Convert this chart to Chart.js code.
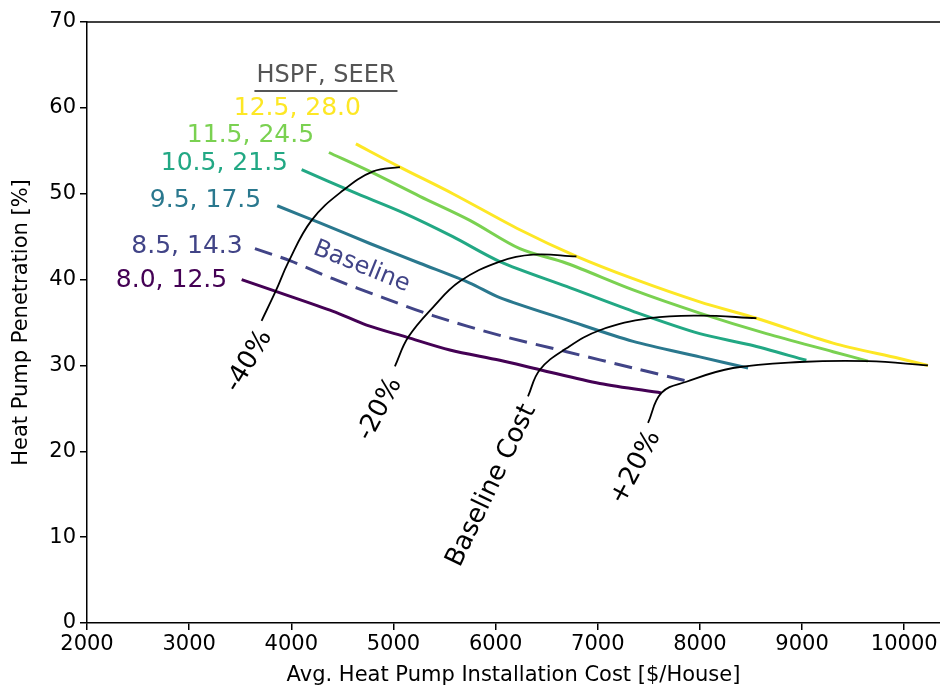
<!DOCTYPE html>
<html>
<head>
<meta charset="utf-8">
<script src="https://cdn.jsdelivr.net/npm/chart.js@4.4.1/dist/chart.umd.min.js"></script>
<style>
  html, body { margin: 0; padding: 0; background: #ffffff; }
</style>
</head>
<body>
<canvas id="chart" width="940" height="688"></canvas>
<script>
const xTicks = [2000, 3000, 4000, 5000, 6000, 7000, 8000, 9000, 10000];
const yTicks = [0, 10, 20, 30, 40, 50, 60, 70];

// HSPF / SEER curves: installation cost [$/house] and penetration [%]
const curveNames = ['8.0, 12.5', '8.5, 14.3', '9.5, 17.5', '10.5, 21.5', '11.5, 24.5', '12.5, 28.0'];
const curveColors = ['#440154', '#414487', '#2a788e', '#22a884', '#7ad151', '#fde725'];

const cost80 = [3514, 3856, 4410, 4737, 5128, 5552, 6041, 6433, 7020, 7623];
const pen80 = [40.0, 38.6, 36.3, 34.7, 33.3, 31.8, 30.6, 29.5, 27.9, 26.8];

const cost85 = [3644, 3986, 4407, 4896, 5386, 6041, 6694, 7346, 7868];
const pen85 = [43.6, 42.2, 40.1, 37.9, 35.8, 33.5, 31.6, 29.7, 28.2];

const cost95 = [3862, 4280, 4769, 5258, 5748, 6041, 6694, 7346, 7998, 8471];
const pen95 = [48.6, 46.6, 44.2, 41.9, 39.6, 37.9, 35.3, 32.8, 31.0, 29.7];

const cost105 = [4101, 4603, 5092, 5581, 6041, 6694, 7346, 7998, 8487, 9042];
const pen105 = [52.8, 50.2, 47.8, 45.0, 42.1, 39.2, 36.3, 33.7, 32.4, 30.6];

const cost115 = [4368, 4769, 5258, 5748, 6237, 6694, 7346, 7998, 8651, 9303, 9645];
const pen115 = [54.8, 52.6, 49.7, 46.9, 43.6, 41.9, 38.8, 36.1, 33.7, 31.6, 30.5];

const cost125 = [4632, 5063, 5581, 6237, 6792, 7346, 7998, 8553, 9303, 9955, 10232];
const pen125 = [55.8, 53.1, 50.0, 45.8, 42.7, 40.1, 37.4, 35.5, 32.6, 30.8, 30.0];

// iso-cost arcs
const arcNames = ['-40%', '-20%', 'Baseline Cost', '+20%'];
const costM40 = [3709, 3849, 3970, 4198, 4508, 4801, 5063];
const penM40 = [35.2, 38.7, 42.0, 46.9, 50.4, 52.6, 53.1];
const costM20 = [5014, 5145, 5389, 5650, 6041, 6367, 6791];
const penM20 = [29.9, 33.3, 36.8, 39.8, 42.1, 42.9, 42.7];
const costBase = [6317, 6433, 6694, 7020, 7509, 7998, 8553];
const penBase = [26.4, 29.5, 32.0, 34.1, 35.5, 35.8, 35.5];
const costP20 = [7492, 7623, 7867, 8324, 8977, 9645, 10232];
const penP20 = [23.3, 26.8, 28.1, 29.7, 30.4, 30.5, 30.0];

// text annotations (data coordinates)
const curveLabelX = [2827, 2979, 3160, 3345, 3600, 4059];
const curveLabelY = [39.9, 43.9, 49.2, 53.5, 56.8, 59.9];
const arcLabelX = [3585, 4867, 5960, 7372];
const arcLabelY = [30.5, 24.9, 16.0, 18.1];
const arcLabelAngle = [-59, -62, -64.5, -62];

const FONT = '"DejaVu Sans", Verdana, sans-serif';

function pts(xs, ys) {
    return xs.map((x, i) => ({ x: x, y: ys[i] }));
}

const curveCosts = [cost80, cost85, cost95, cost105, cost115, cost125];
const curvePens = [pen80, pen85, pen95, pen105, pen115, pen125];
const arcCosts = [costM40, costM20, costBase, costP20];
const arcPens = [penM40, penM20, penBase, penP20];

const datasets = [];
arcCosts.forEach((c, i) => {
    datasets.push({
        label: arcNames[i],
        data: pts(c, arcPens[i]),
        borderColor: '#000000',
        borderWidth: 1.8,
        pointRadius: 0,
        tension: 0.4,
        order: 0
    });
});
curveCosts.forEach((c, i) => {
    datasets.push({
        label: curveNames[i],
        data: pts(c, curvePens[i]),
        borderColor: curveColors[i],
        borderWidth: 3,
        borderDash: i === 1 ? [18, 9] : [],
        pointRadius: 0,
        tension: 0.3,
        order: 1
    });
});

const annotations = {
    id: 'annotations',
    afterDatasetsDraw(chart) {
        const ctx = chart.ctx;
        const xs = chart.scales.x;
        const ys = chart.scales.y;
        const area = chart.chartArea;
        ctx.save();
        // top spine
        ctx.strokeStyle = '#000000';
        ctx.lineWidth = 1.5;
        ctx.beginPath();
        ctx.moveTo(area.left, area.top);
        ctx.lineTo(chart.width, area.top);
        ctx.stroke();

        ctx.textAlign = 'center';
        ctx.textBaseline = 'middle';

        // legend header
        ctx.font = '24px ' + FONT;
        ctx.fillStyle = '#555555';
        const hx = xs.getPixelForValue(4339);
        const hy = ys.getPixelForValue(63.7);
        ctx.fillText('HSPF, SEER', hx, hy);
        const hw = ctx.measureText('HSPF, SEER').width;
        ctx.strokeStyle = '#555555';
        ctx.lineWidth = 2;
        ctx.beginPath();
        ctx.moveTo(hx - hw / 2 - 2, hy + 15);
        ctx.lineTo(hx + hw / 2 + 2, hy + 15);
        ctx.stroke();

        // curve labels
        ctx.font = '25px ' + FONT;
        curveNames.forEach((name, i) => {
            ctx.fillStyle = curveColors[i];
            ctx.fillText(name, xs.getPixelForValue(curveLabelX[i]), ys.getPixelForValue(curveLabelY[i]));
        });

        // "Baseline" along the dashed curve
        ctx.save();
        ctx.font = '24px ' + FONT;
        ctx.fillStyle = curveColors[1];
        ctx.translate(xs.getPixelForValue(4687), ys.getPixelForValue(41.5));
        ctx.rotate(22 * Math.PI / 180);
        ctx.fillText('Baseline', 0, 0);
        ctx.restore();

        // arc labels
        ctx.font = '26px ' + FONT;
        ctx.fillStyle = '#000000';
        arcNames.forEach((name, i) => {
            ctx.save();
            ctx.translate(xs.getPixelForValue(arcLabelX[i]), ys.getPixelForValue(arcLabelY[i]));
            ctx.rotate(arcLabelAngle[i] * Math.PI / 180);
            ctx.fillText(name, 0, 0);
            ctx.restore();
        });
        ctx.restore();
    }
};

new Chart(document.getElementById('chart').getContext('2d'), {
    type: 'line',
    data: { datasets: datasets },
    options: {
        responsive: false,
        animation: false,
        layout: { padding: { top: 22, right: -4, bottom: 0, left: 0 } },
        plugins: {
            legend: { display: false },
            tooltip: { enabled: false }
        },
        scales: {
            x: {
                type: 'linear',
                min: 2000,
                max: 10350,
                afterBuildTicks: (scale) => { scale.ticks = xTicks.map(v => ({ value: v })); },
                afterFit: (scale) => { scale.height = 65; },
                border: { display: true, color: '#000000', width: 1.5 },
                grid: { display: true, drawOnChartArea: false, drawTicks: true, tickLength: 7, color: '#000000', lineWidth: 1.5 },
                ticks: { color: '#000000', font: { family: FONT, size: 21 }, padding: 2, maxRotation: 0, callback: (v) => String(v) },
                title: {
                    display: true,
                    text: 'Avg. Heat Pump Installation Cost [$/House]',
                    color: '#000000',
                    font: { family: FONT, size: 21 },
                    padding: { top: 1, bottom: 0 }
                }
            },
            y: {
                type: 'linear',
                min: 0,
                max: 70,
                afterBuildTicks: (scale) => { scale.ticks = yTicks.map(v => ({ value: v })); },
                afterFit: (scale) => { scale.width = 87; },
                border: { display: true, color: '#000000', width: 1.5 },
                grid: { display: true, drawOnChartArea: false, drawTicks: true, tickLength: 7, color: '#000000', lineWidth: 1.5 },
                ticks: { color: '#000000', font: { family: FONT, size: 21 }, padding: 4, callback: (v) => String(v) },
                title: {
                    display: true,
                    text: 'Heat Pump Penetration [%]',
                    color: '#000000',
                    font: { family: FONT, size: 21 },
                    padding: { top: 9, bottom: 0 }
                }
            }
        }
    },
    plugins: [annotations]
});
</script>
</body>
</html>
